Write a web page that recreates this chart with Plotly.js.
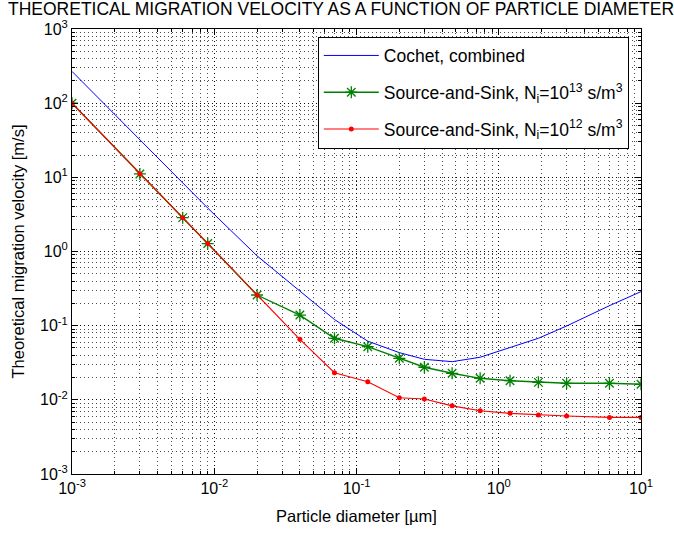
<!DOCTYPE html>
<html>
<head>
<meta charset="utf-8">
<script src="https://cdn.plot.ly/plotly-3.0.1.min.js"></script>
<style>html,body{margin:0;padding:0;background:#fff;}#chart{width:674px;height:534px;}</style>
</head>
<body>
<div id="chart"></div>
<script>
// Particle diameter [µm]
var diameter = [0.001, 0.003, 0.006, 0.009, 0.02, 0.04, 0.07, 0.12, 0.2, 0.3, 0.47, 0.74, 1.2, 1.9, 3, 6, 10];
// Cochet, combined [m/s]
var cochet = [268, 32, 8.4, 3.85, 0.873, 0.288, 0.121, 0.0618, 0.0433, 0.0352, 0.0327, 0.0375, 0.0501, 0.0676, 0.099, 0.186, 0.288];
// Source-and-Sink, Ni = 1e13 s/m^3
var sourceSink13 = [100, 11.1, 2.86, 1.28, 0.259, 0.139, 0.0676, 0.0521, 0.0363, 0.0275, 0.0228, 0.0195, 0.0181, 0.0172, 0.0167, 0.0167, 0.0162];
// Source-and-Sink, Ni = 1e12 s/m^3
var sourceSink12 = [100, 11.1, 2.86, 1.28, 0.259, 0.0655, 0.0232, 0.0175, 0.01067, 0.01025, 0.0083, 0.00713, 0.00657, 0.00624, 0.00604, 0.0058, 0.0058];

var seriesNames = ['Cochet, combined',
  'Source-and-Sink, N<sub>i</sub>=10<sup>13</sup> s/m<sup>3</sup>',
  'Source-and-Sink, N<sub>i</sub>=10<sup>12</sup> s/m<sup>3</sup>'];

var xTickVals = [0.001, 0.01, 0.1, 1, 10];
var xTickText = ['10<sup>-3</sup>', '10<sup>-2</sup>', '10<sup>-1</sup>', '10<sup>0</sup>', '10<sup>1</sup>'];
var yTickVals = [0.001, 0.01, 0.1, 1, 10, 100, 1000];
var yTickText = ['10<sup>-3</sup>', '10<sup>-2</sup>', '10<sup>-1</sup>', '10<sup>0</sup>', '10<sup>1</sup>', '10<sup>2</sup>', '10<sup>3</sup>'];

var titleText = 'THEORETICAL MIGRATION VELOCITY AS A FUNCTION OF PARTICLE DIAMETER';
var xTitle = 'Particle diameter [µm]';
var yTitle = 'Theoretical migration velocity [m/s]';

var FONT = 'Liberation Sans, Arial, sans-serif';

var traces = [
  {x: diameter, y: cochet, name: seriesNames[0], type: 'scatter', mode: 'lines',
   line: {color: 'rgb(0,0,255)', width: 1}, legendgroup: 'a'},
  {x: diameter, y: sourceSink13, name: seriesNames[1], type: 'scatter', mode: 'lines+markers',
   line: {color: 'rgb(0,128,0)', width: 1.4},
   marker: {symbol: 'asterisk-open', size: 10, color: 'rgb(0,128,0)', line: {color: 'rgb(0,128,0)', width: 1.3}},
   legendgroup: 'b'},
  {x: diameter, y: sourceSink12, name: seriesNames[2], type: 'scatter', mode: 'lines+markers',
   line: {color: 'rgb(255,0,0)', width: 1.1},
   marker: {symbol: 'circle', size: 5, color: 'rgb(255,0,0)'},
   legendgroup: 'c'}
];

function axisCommon() {
  return {
    type: 'log', showline: true, linecolor: '#000', linewidth: 1, mirror: 'ticks',
    ticks: 'inside', ticklen: 6, tickcolor: '#000', tickwidth: 1,
    showgrid: true, gridcolor: 'rgba(0,0,0,0.85)', griddash: '1px,3px', gridwidth: 1,
    zeroline: false, tickmode: 'array',
    tickfont: {family: FONT, size: 16, color: '#000'},
    minor: {dtick: 'D1', ticks: 'inside', ticklen: 3, tickcolor: '#000', showgrid: true,
            gridcolor: 'rgba(0,0,0,0.7)', griddash: '1px,3px', gridwidth: 1}
  };
}

var xa = axisCommon();
xa.range = [-3, 1];
xa.tickvals = xTickVals; xa.ticktext = xTickText;
xa.title = {text: xTitle, font: {family: FONT, size: 16.5, color: '#000'}, standoff: 14};

var ya = axisCommon();
ya.range = [-3, 3];
ya.tickvals = yTickVals; ya.ticktext = yTickText;
ya.title = {text: yTitle, font: {family: FONT, size: 16.5, color: '#000'}, standoff: 11};

var layout = {
  width: 674, height: 534,
  margin: {l: 72, r: 33, t: 29, b: 60, pad: 0},
  paper_bgcolor: '#fff', plot_bgcolor: '#fff',
  font: {family: FONT, size: 14, color: '#000'},
  title: {text: titleText, font: {family: FONT, size: 17.5, color: '#000'},
          xref: 'container', x: 0.506, xanchor: 'center', yref: 'container', y: 0.983, yanchor: 'middle'},
  xaxis: xa, yaxis: ya,
  showlegend: true,
  legend: {x: 0.432, y: 0.983, xanchor: 'left', yanchor: 'top', bgcolor: '#fff',
           bordercolor: '#000', borderwidth: 1, font: {family: FONT, size: 17.5, color: '#000'},
           traceorder: 'grouped', tracegroupgap: 11, itemwidth: 55}
};

Plotly.newPlot('chart', traces, layout, {displayModeBar: false, staticPlot: true});
</script>
</body>
</html>
